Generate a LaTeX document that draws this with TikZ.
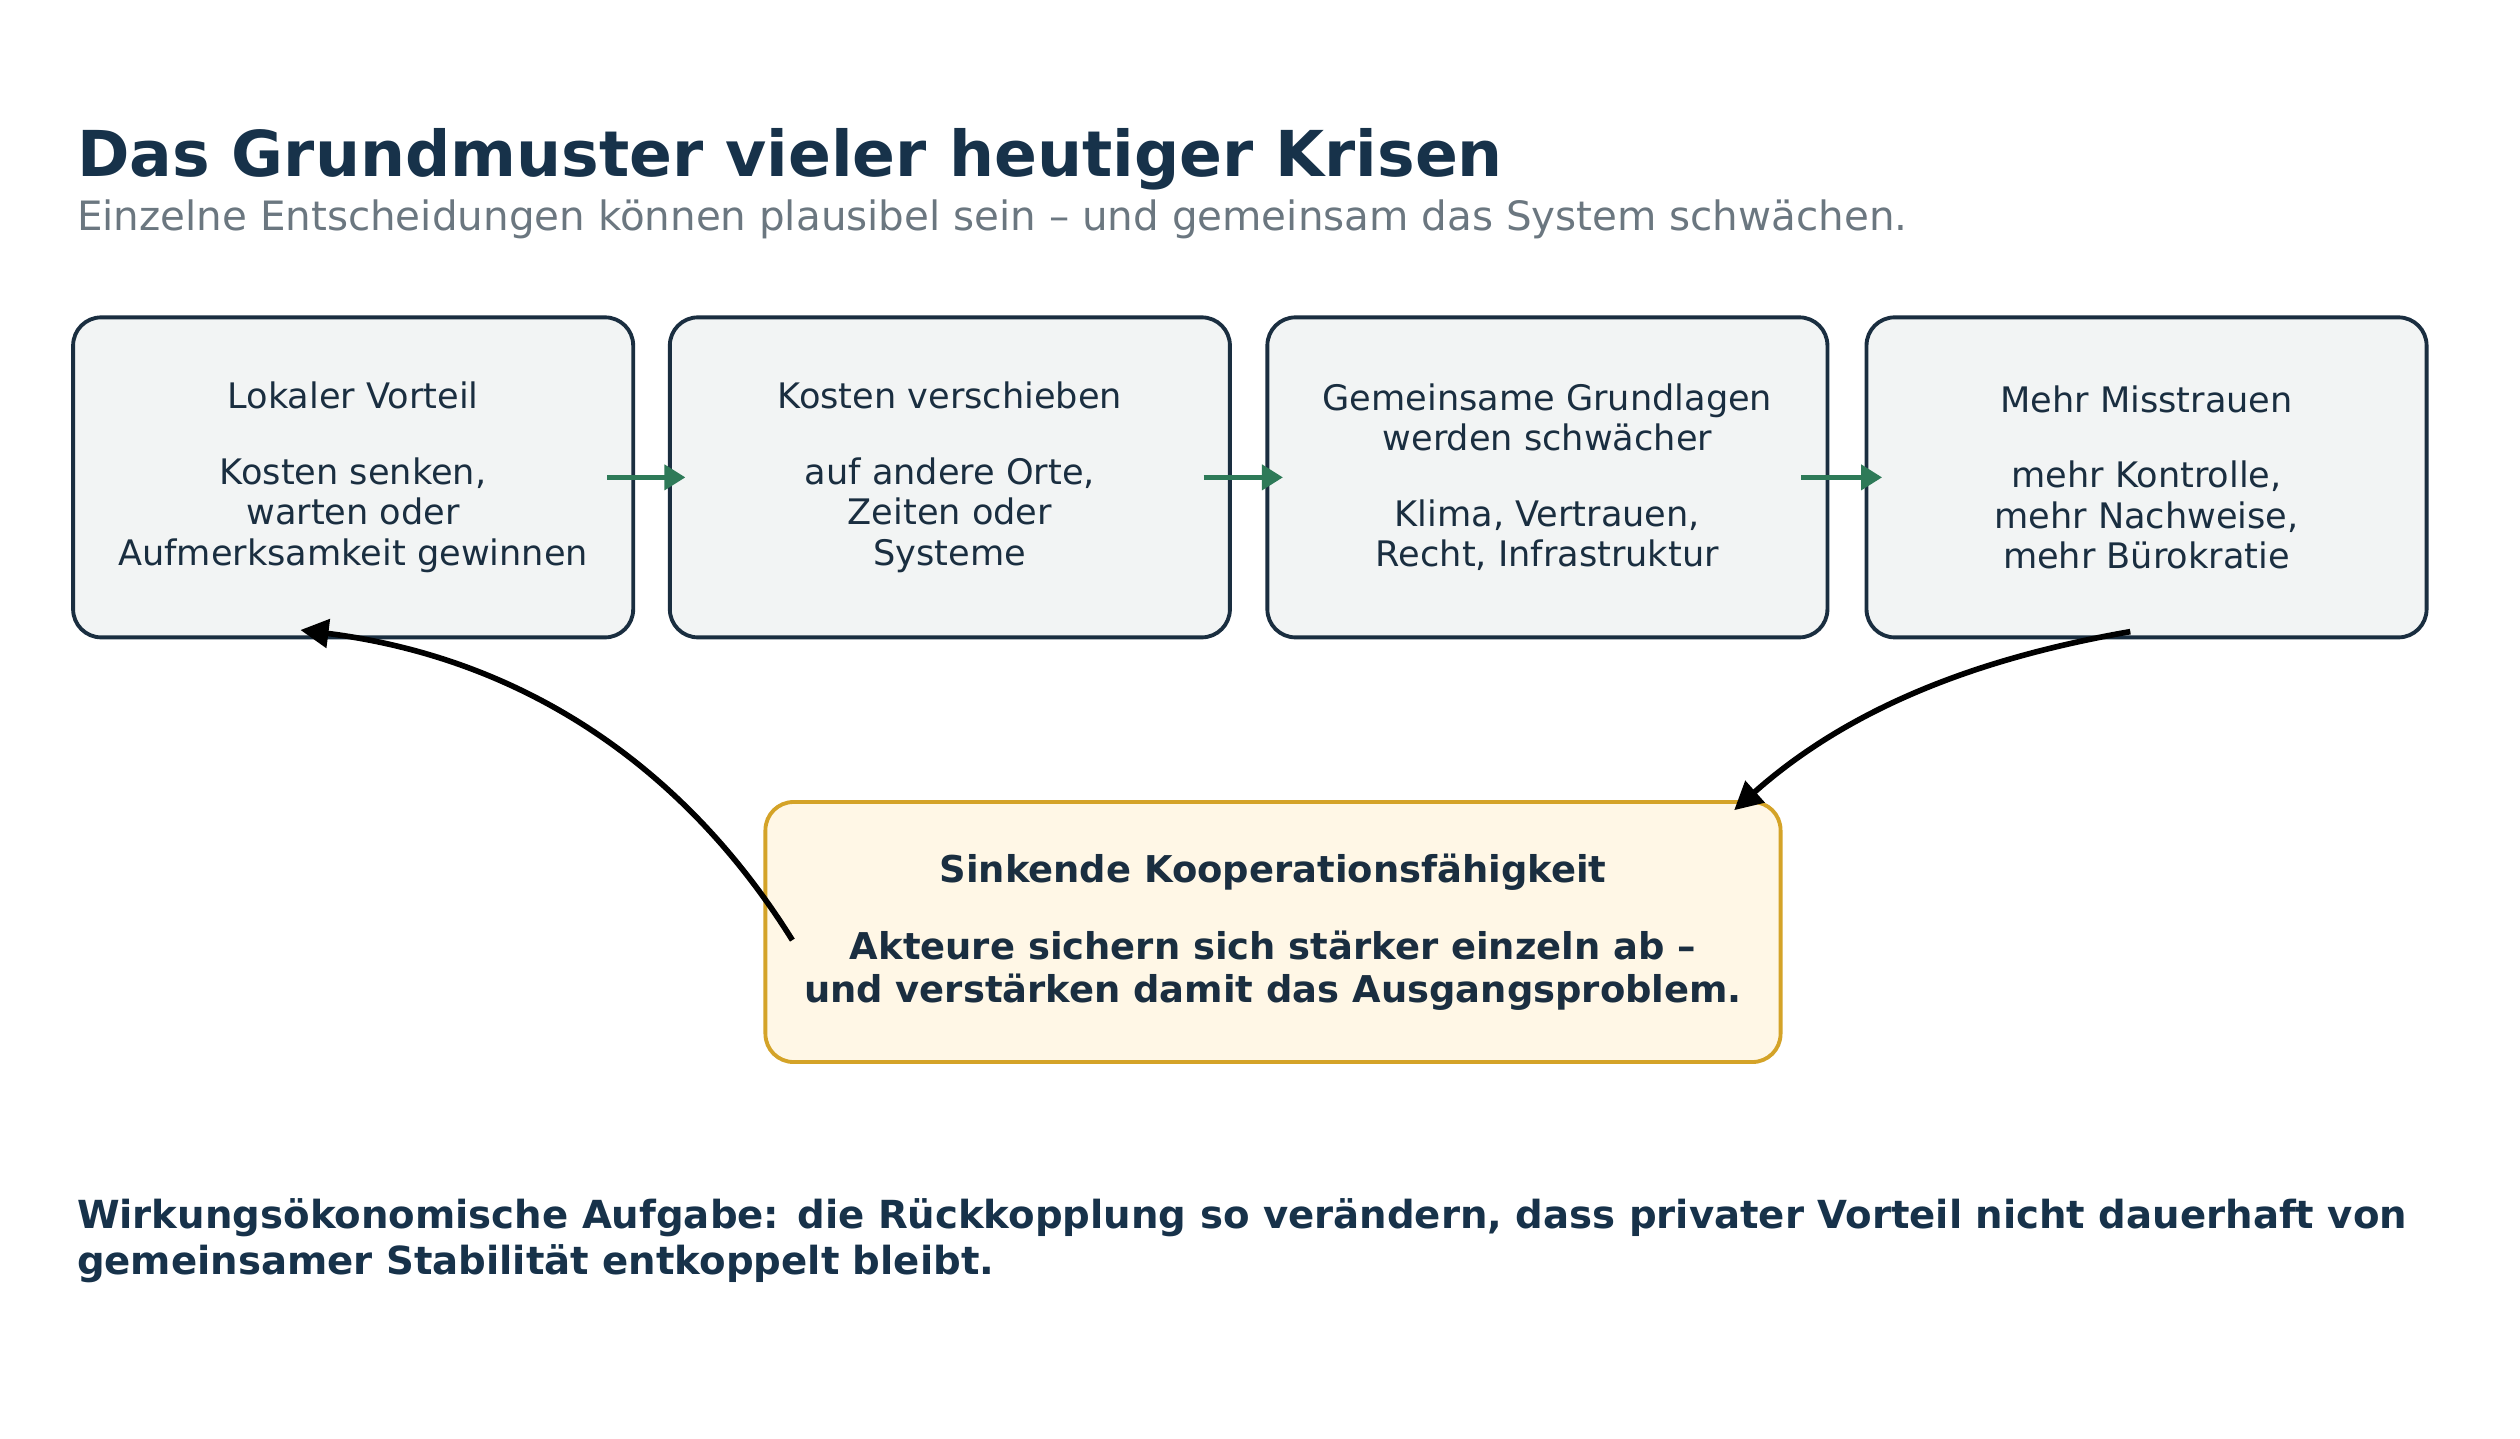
\documentclass[tikz,border=0pt]{standalone}
\usepackage{fontspec}
\setmainfont{DejaVu Sans}
\usetikzlibrary{arrows.meta}
\definecolor{navy}{HTML}{17324A}
\definecolor{boxfill}{HTML}{F2F4F4}
\definecolor{boxline}{HTML}{1A2E40}
\definecolor{flow}{HTML}{2E7A58}
\definecolor{loop}{HTML}{A84848}
\definecolor{warnfill}{HTML}{FFF7E6}
\definecolor{warnline}{HTML}{D4A328}
\definecolor{subgray}{HTML}{6B7780}
\tikzset{
  stage/.style={draw=boxline, fill=boxfill, line width=1.1pt, rounded corners=8pt,
    minimum width=5.6cm, minimum height=3.2cm, align=center, text=boxline,
    font=\fontsize{10}{11.5}\selectfont},
  flowarrow/.style={flow, line width=1.6pt, -{Triangle[length=6pt,width=7pt]}},
  loopback/.style={loop, line width=1.6pt, -{Triangle[length=8pt,width=8pt]}}
}
\begin{document}
\begin{tikzpicture}[x=0.016237cm, y=-0.016237cm]
  \useasboundingbox (0,0) rectangle (1552,886);
  \fill[white] (0,0) rectangle (1552,886);
  % title
  \node[anchor=base west, inner sep=0, text=navy, font=\bfseries\fontsize{18}{20}\selectfont] (title) at (47,109) {Das Grundmuster vieler heutiger Krisen};
  \node[anchor=base west, inner sep=0, text=subgray, font=\fontsize{11.5}{13}\selectfont] (sub) at (47,142) {Einzelne Entscheidungen können plausibel sein – und gemeinsam das System schwächen.};
  % chain
  \node[stage] (s1) at (217.5,294) {Lokaler Vorteil\\[10pt]Kosten senken,\\warten oder\\Aufmerksamkeit gewinnen};
  \node[stage] (s2) at (585,294) {Kosten verschieben\\[10pt]auf andere Orte,\\Zeiten oder\\Systeme};
  \node[stage] (s3) at (953,294) {Gemeinsame Grundlagen\\werden schwächer\\[10pt]Klima, Vertrauen,\\Recht, Infrastruktur};
  \node[stage] (s4) at (1322,294) {Mehr Misstrauen\\[10pt]mehr Kontrolle,\\mehr Nachweise,\\mehr Bürokratie};
  \draw[flowarrow] ([xshift=-8pt]s1.east) -- ([xshift=5pt]s2.west);
  \draw[flowarrow] ([xshift=-8pt]s2.east) -- ([xshift=5pt]s3.west);
  \draw[flowarrow] ([xshift=-8pt]s3.east) -- ([xshift=5pt]s4.west);
  % feedback
  \node[stage, draw=warnline, fill=warnfill, minimum width=10.15cm, minimum height=2.6cm,
        font=\bfseries\fontsize{10.5}{12}\selectfont] (coop) at (784,574)
        {Sinkende Kooperationsfähigkeit\\[10pt]Akteure sichern sich stärker einzeln ab –\\und verstärken damit das Ausgangsproblem.};
  \coordinate (c1) at (488,579);
  \coordinate (c2) at (185,388);
  \coordinate (c3) at (1312,389);
  \coordinate (c4) at (1068,499);
  \draw[loopback] (c1) .. controls (420,470) and (320,405) .. (c2);
  \draw[loopback] (c3) .. controls (1220,405) and (1140,435) .. (c4);
  % footer
  \node[anchor=north west, inner sep=0, align=left, text=navy, font=\bfseries\fontsize{11}{13}\selectfont] (task) at (47,738)
    {Wirkungsökonomische Aufgabe: die Rückkopplung so verändern, dass privater Vorteil nicht dauerhaft von\\gemeinsamer Stabilität entkoppelt bleibt.};
\end{tikzpicture}
\end{document}
